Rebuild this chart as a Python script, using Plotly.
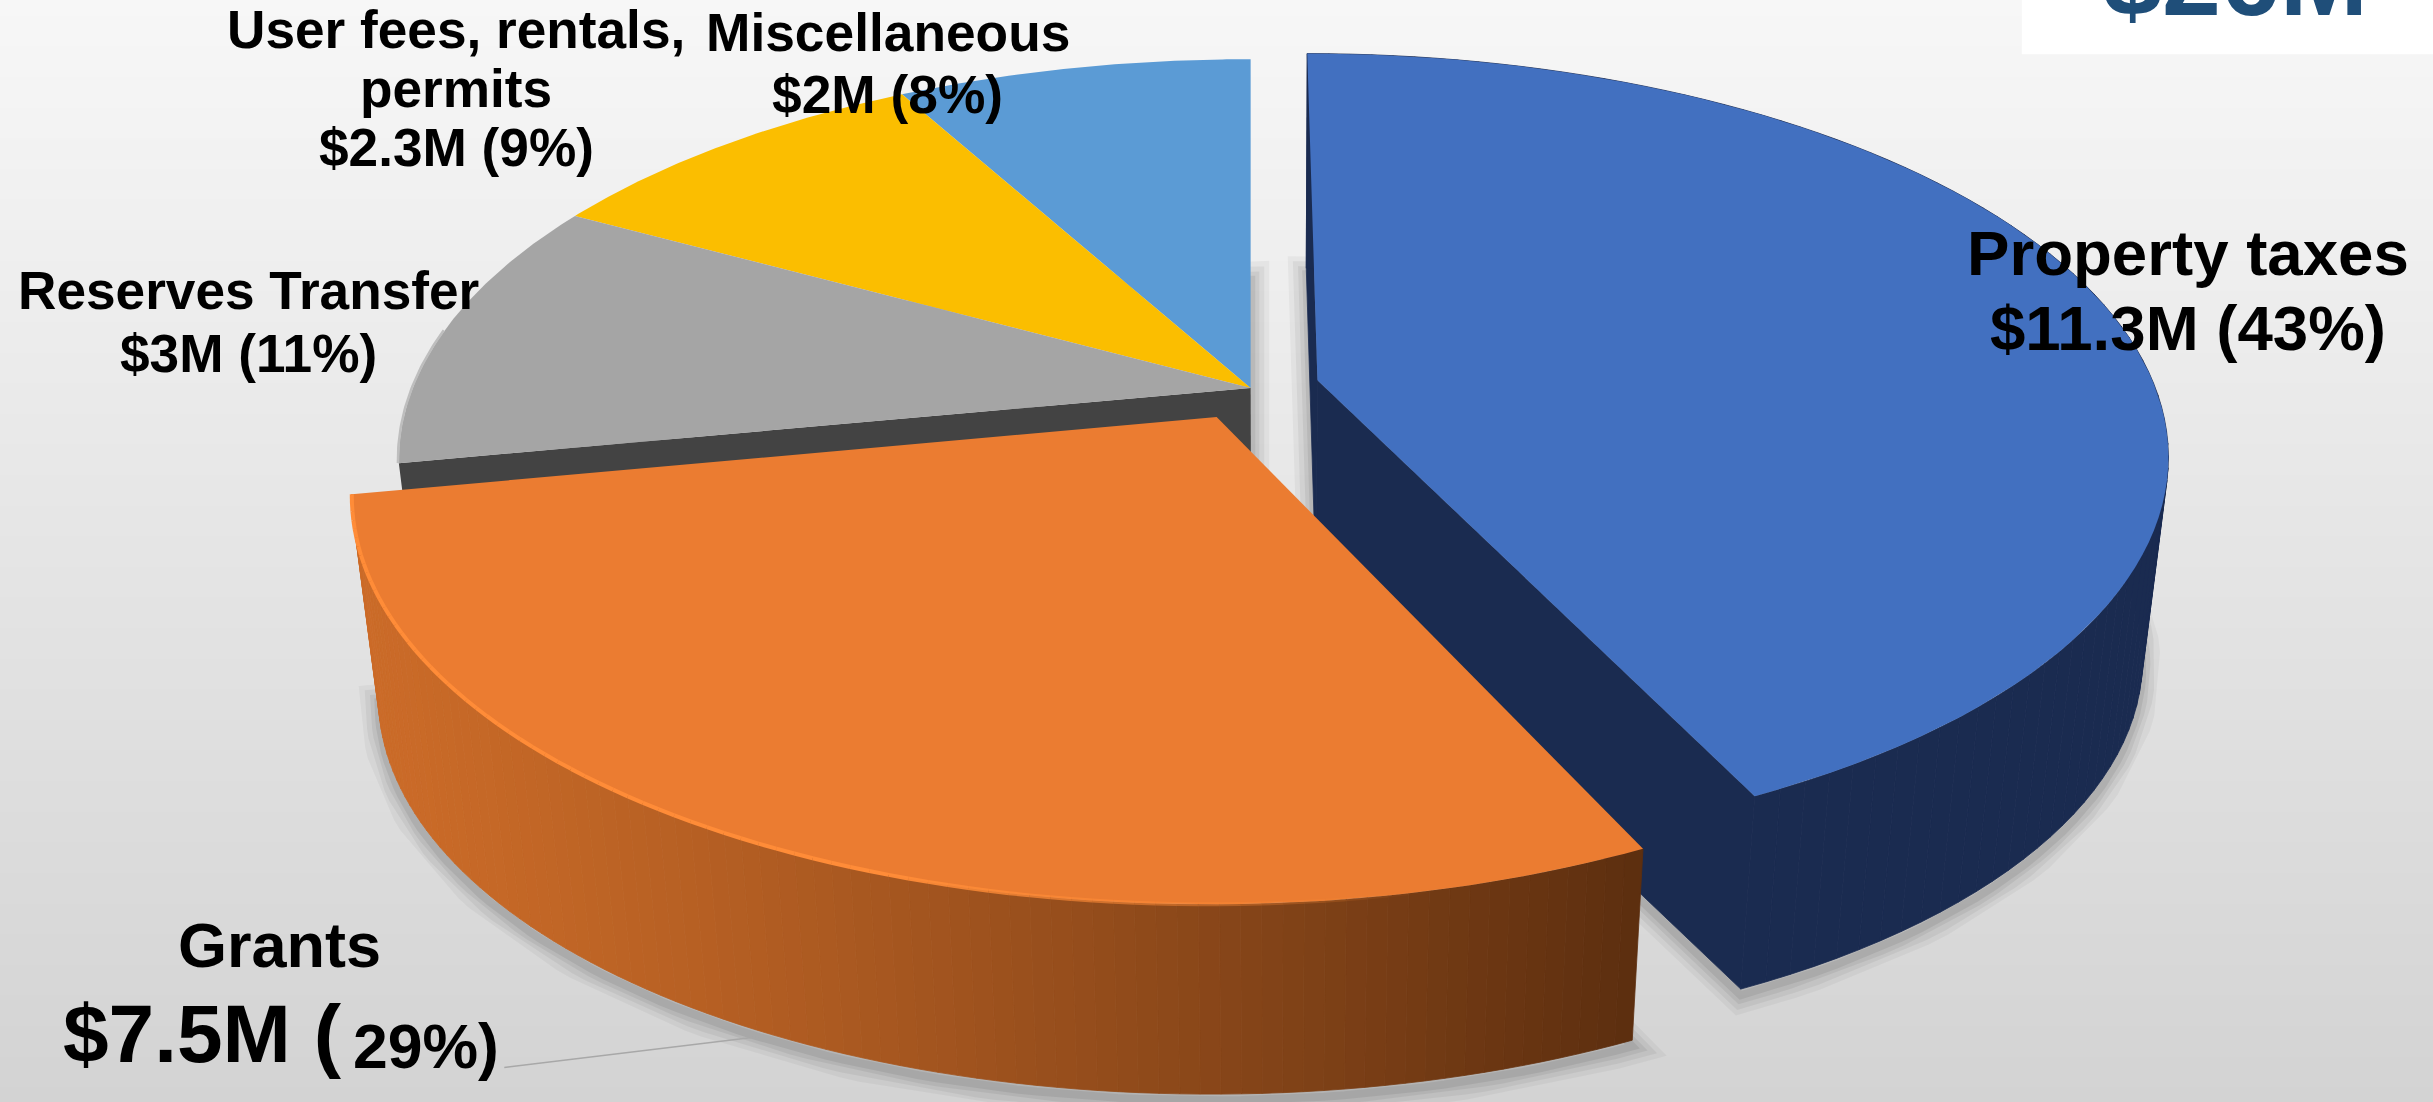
import numpy as np
import plotly.graph_objects as go

# ---- data ----
categories = ["Property taxes", "Grants", "Reserves Transfer", "User fees, rentals, permits", "Miscellaneous"]
amounts = ["$11.3M", "$7.5M", "$3M", "$2.3M", "$2M"]
percents = [43, 29, 11, 9, 8]
total_label = "$26M"

top_colors = ["#4270C0", "#EB7C31", "#A5A5A5", "#FBBE00", "#5B9BD5"]
wall_colors = ["#1A2B50", None, "#434343", None, None]
pulls = [(0.080, -0.02), (-0.04, 0.074), (0, 0), (0, 0), (0, 0)]

# ---- page and projection (reference units: 1568 x 710) ----
W, H = 1568, 1102 * 1568 / 2433
CX, CY, A, B, K = 806.0, 250.0, 540.0, 250.0, 0.18
VX, VY, F = 820.0, 4800.0, 0.971


def project(X, Z):
    s = 1.0 / (1.0 - K * Z)
    return CX + A * X * s, CY + B * Z * s


def drop(x, y):
    return VX + (x - VX) * F, VY + (y - VY) * F


def slice_rim(a0, a1, pull, n=90):
    t = np.radians(np.linspace(a0, a1, n))
    return project(np.sin(t) + pull[0], -np.cos(t) + pull[1])


def poly(x, y, color, lw=0.0):
    return go.Scatter(x=list(x), y=list(y), mode="lines", fill="toself", fillcolor=color,
                      line=dict(width=lw, color=color), hoverinfo="skip", showlegend=False)


def stroke(x, y, color, width):
    return go.Scatter(x=list(x), y=list(y), mode="lines", line=dict(color=color, width=width),
                      hoverinfo="skip", showlegend=False)


def mix(c0, c1, t):
    return "rgb(%d,%d,%d)" % tuple(int(round(a + (b - a) * t)) for a, b in zip(c0, c1))


edges = np.concatenate([[0], np.cumsum(percents)]) * 3.6
geo = []
for i in range(len(percents)):
    rx, ry = slice_rim(edges[i], edges[i + 1], pulls[i])
    ax, ay = project(pulls[i][0], pulls[i][1])
    geo.append((rx, ry, float(ax), float(ay)))

fig = go.Figure()

# background gradient
fig.add_trace(go.Heatmap(x=[0, W], y=[0, H], z=[[0, 0], [1, 1]], zsmooth="best", showscale=False,
                         colorscale=[[0, "#F7F7F7"], [1, "#D3D3D3"]], hoverinfo="skip"))

# soft shadows below the bottom outlines
for i in [4, 3, 2, 0, 1]:
    rx, ry, ax, ay = geo[i]
    bx, by = drop(np.concatenate([[ax], rx, [ax]]), np.concatenate([[ay], ry, [ay]]))
    for w, al in [(36, 0.04), (26, 0.05), (16, 0.06), (8, 0.07)]:
        fig.add_trace(stroke(bx, by + 4, f"rgba(0,0,0,{al})", w))

# back slices
for i in [4, 3]:
    rx, ry, ax, ay = geo[i]
    fig.add_trace(poly(np.r_[ax, rx, ax], np.r_[ay, ry, ay], top_colors[i]))

# gray slice with its dark cut face
rx, ry, ax, ay = geo[2]
bx0, by0 = drop(rx[0], ry[0])
bxa, bya = drop(ax, ay)
fig.add_trace(poly([ax, rx[0], bx0, bxa, ax], [ay, ry[0], by0, bya, ay], wall_colors[2]))
fig.add_trace(poly(np.r_[ax, rx, ax], np.r_[ay, ry, ay], top_colors[2]))
fig.add_trace(stroke(rx[:45] - 0.6, ry[:45], "#BEBEBE", 2.5))

# blue slice: cut faces, rim wall (one quad per rim step), top
rx, ry, ax, ay = geo[0]
brx, bry = drop(rx, ry)
bxa, bya = drop(ax, ay)
fig.add_trace(poly([ax, rx[0], brx[0], bxa, ax], [ay, ry[0], bry[0], bya, ay], wall_colors[0], 0.8))
fig.add_trace(poly([ax, rx[-1], brx[-1], bxa, ax], [ay, ry[-1], bry[-1], bya, ay], wall_colors[0], 0.8))
for j in range(len(rx) - 1):
    fig.add_trace(poly([rx[j], rx[j + 1], brx[j + 1], brx[j], rx[j]],
                       [ry[j], ry[j + 1], bry[j + 1], bry[j], ry[j]], wall_colors[0], 0.8))
fig.add_trace(poly(np.r_[ax, rx, ax], np.r_[ay, ry, ay], top_colors[0]))

# orange slice: shaded rim wall, top, highlight
rx, ry, ax, ay = geo[1]
brx, bry = drop(rx, ry)
wall_left, wall_right = (203, 107, 40), (92, 46, 15)
for j in range(len(rx) - 1):
    xm = (rx[j] + rx[j + 1]) / 2
    t = float(np.clip((xm - rx.min()) / (rx.max() - rx.min()), 0, 1))
    c = mix(wall_left, wall_right, t ** 1.25)
    fig.add_trace(poly([rx[j], rx[j + 1], brx[j + 1], brx[j], rx[j]],
                       [ry[j], ry[j + 1], bry[j + 1], bry[j], ry[j]], c, 0.8))
fig.add_trace(poly(np.r_[ax, rx, ax], np.r_[ay, ry, ay], top_colors[1]))
n = len(rx)
for j in range(n - 1):
    t = j / (n - 2)  # t=0 at the right end, 1 at the left edge
    if t < 0.12:
        continue
    al = min(1.0, (t - 0.12) / 0.3)
    fig.add_trace(stroke(rx[j:j + 2], ry[j:j + 2], f"rgba(255,140,56,{al:.2f})", 4))

# leader line for Grants
fig.add_trace(stroke([325, 490], [688, 668], "#A8A8A8", 1.5))

# ---- text ----
labels = [
    ("Property taxes", 1410, 163, 63.6, "center"),
    ("$11.3M (43%)", 1410, 211, 63.6, "center"),
    ("Reserves Transfer", 160, 187, 53.2, "center"),
    ("$3M (11%)", 160, 228, 53.2, "center"),
    ("User fees, rentals,", 294, 19, 53.2, "center"),
    ("permits", 294, 57, 53.2, "center"),
    ("$2.3M (9%)", 294, 95, 53.2, "center"),
    ("Miscellaneous", 572, 21, 53.3, "center"),
    ("$2M (8%)", 572, 61, 53.3, "center"),
    ("Grants", 180, 609, 63, "center"),
    ("$7.5M (", 222, 666, 82, "right"),
    ("29%)", 226, 674, 62.5, "left"),
]
ann = [dict(x=x, y=y, xref="x", yref="y", text=f"<b>{t}</b>", showarrow=False, xanchor=xa, yanchor="middle",
            font=dict(family="Liberation Sans", size=s, color="#000000"))
       for t, x, y, s, xa in labels]
ann.append(dict(x=1441, y=25, xref="x", yref="y", text=f"<b>{total_label}</b>", showarrow=False,
                xanchor="center", yanchor="bottom",
                font=dict(family="Liberation Sans", size=106, color="#1F4E79")))

fig.update_layout(
    width=2433, height=1102, margin=dict(l=0, r=0, t=0, b=0), showlegend=False,
    paper_bgcolor="#EEEEEE", plot_bgcolor="rgba(0,0,0,0)",
    xaxis=dict(range=[0, W], visible=False, fixedrange=True),
    yaxis=dict(range=[H, 0], visible=False, fixedrange=True),
    shapes=[dict(type="rect", xref="x", yref="y", x0=1303, x1=W, y0=-2, y1=35,
                 fillcolor="#FFFFFF", line=dict(width=0), layer="above")],
    annotations=ann,
)
fig.write_html("out.html", config=dict(displayModeBar=False),
               post_script="document.body.style.margin='0';document.body.style.overflow='hidden';")
